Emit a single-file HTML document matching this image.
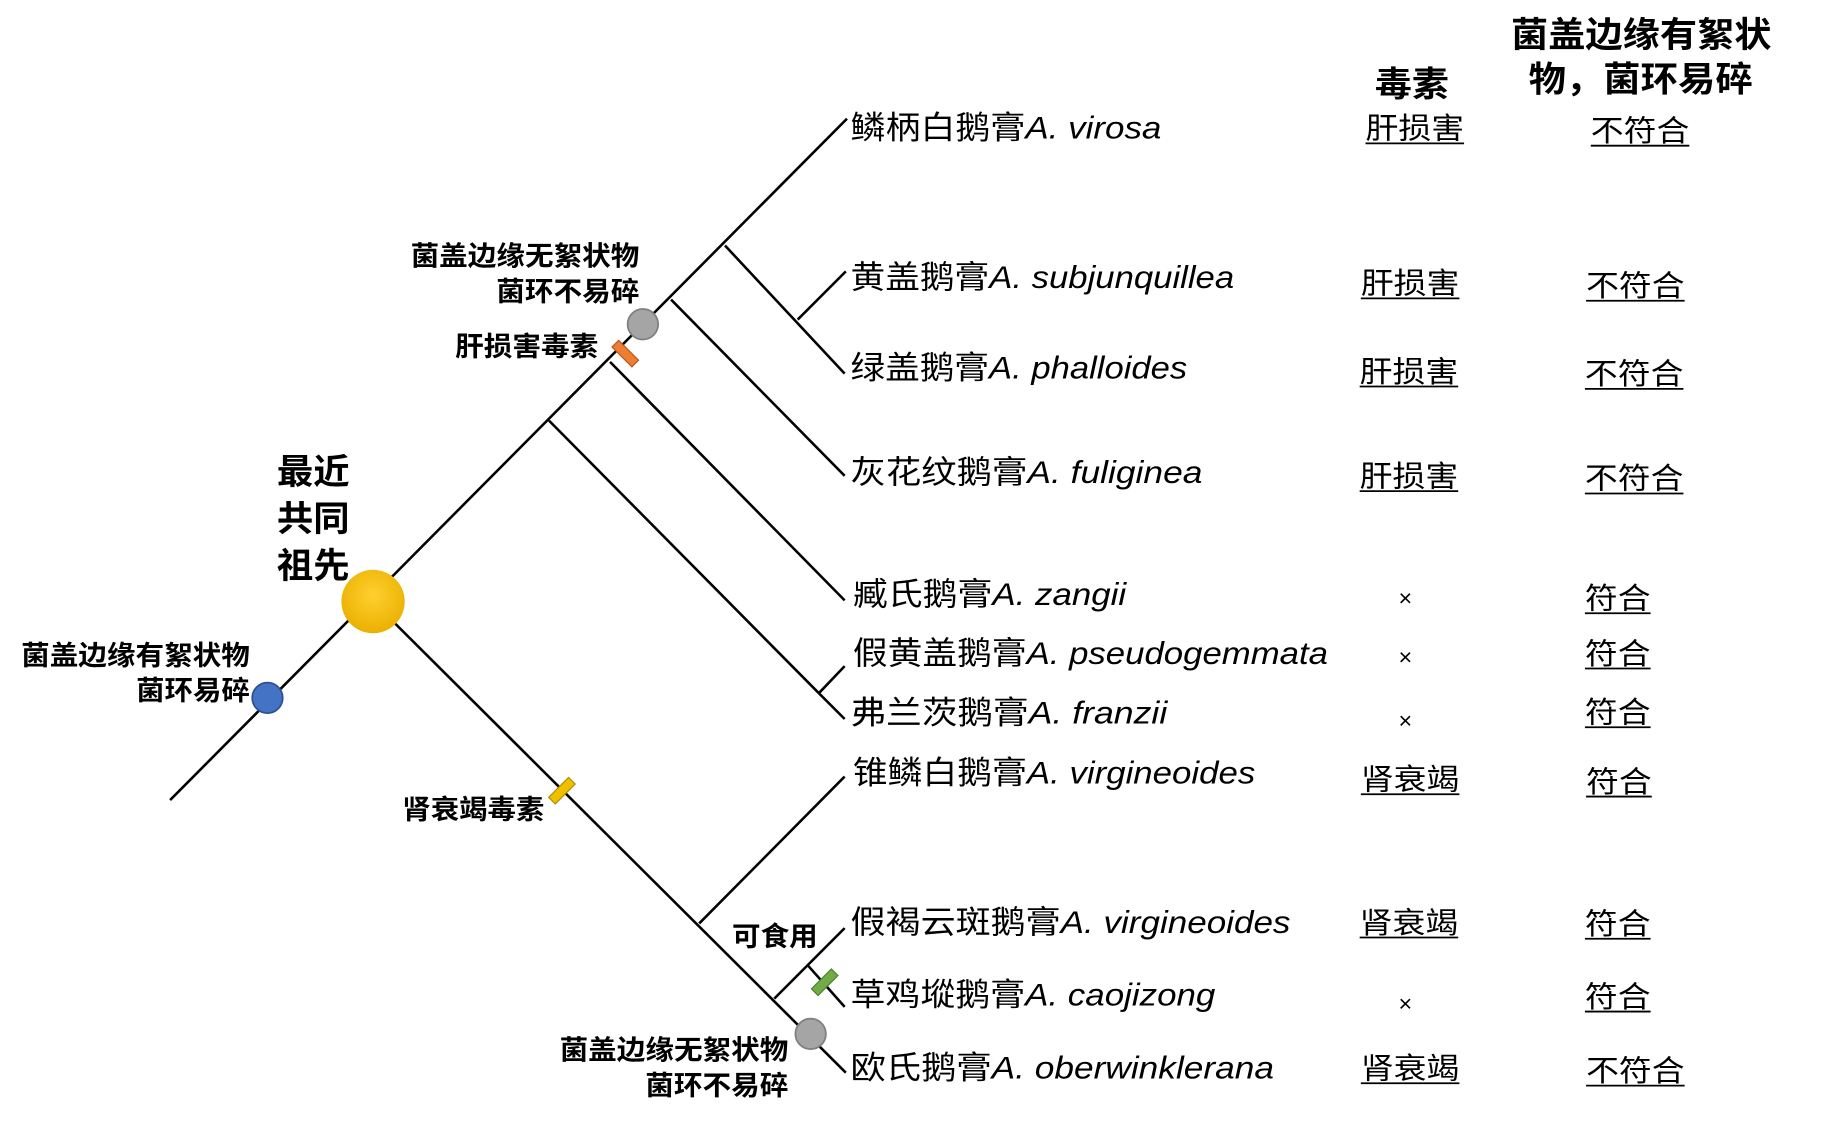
<!DOCTYPE html>
<html><head><meta charset="utf-8"><style>
html,body{margin:0;padding:0;background:#fff;}
svg{display:block;}
text{font-family:"Liberation Sans","Noto Sans CJK SC",sans-serif;fill:#000;}
.b{font-weight:bold;font-size:23px;}
.sp{font-size:27px;}
.i{font-style:italic;}
.c{font-size:25px;}
</style></head><body>
<svg width="1843" height="1122" viewBox="0 0 1571 955" preserveAspectRatio="none" xmlns="http://www.w3.org/2000/svg">
<defs>
<radialGradient id="yg" cx="50%" cy="40%" r="60%"><stop offset="0" stop-color="#ffd030"/><stop offset="1" stop-color="#eab000"/></radialGradient>
</defs>
<g stroke="#000" stroke-width="2.2" fill="none">
<line x1="145" y1="681" x2="722" y2="101"/>
<line x1="318" y1="512" x2="721" y2="913"/>
<line x1="468" y1="358" x2="698" y2="590"/>
<line x1="698" y1="590" x2="720" y2="567"/>
<line x1="698" y1="590" x2="720" y2="612"/>
<line x1="520" y1="308" x2="720" y2="511"/>
<line x1="572" y1="255" x2="720" y2="405"/>
<line x1="618" y1="209" x2="720" y2="318"/>
<line x1="680" y1="272" x2="721" y2="231"/>
<line x1="596" y1="786" x2="720" y2="661"/>
<line x1="660" y1="850" x2="720" y2="790"/>
<line x1="688" y1="821" x2="720" y2="857"/>
</g>
<rect x="-4" y="-12" width="8" height="24" fill="#ed7d31" stroke="#b05a1c" stroke-width="1" transform="translate(533,301) rotate(-45)"/>
<rect x="-4" y="-12" width="8" height="24" fill="#f0c000" stroke="#b08c00" stroke-width="1" transform="translate(479,673) rotate(45)"/>
<rect x="-4" y="-12" width="8" height="24" fill="#70ad47" stroke="#4e7f30" stroke-width="1" transform="translate(703,836) rotate(45)"/>
<circle cx="318" cy="512" r="27" fill="url(#yg)"/>
<circle cx="228" cy="594" r="13" fill="#4472c4" stroke="#2f528f" stroke-width="1.5"/>
<circle cx="548" cy="276" r="13" fill="#a5a5a5" stroke="#7f7f7f" stroke-width="1.5"/>
<circle cx="691" cy="880" r="13" fill="#a5a5a5" stroke="#7f7f7f" stroke-width="1.5"/>

<text class="b" x="236" y="412" style="font-size:30px" textLength="62" lengthAdjust="spacingAndGlyphs">最近</text>
<text class="b" x="236" y="452" style="font-size:30px" textLength="62" lengthAdjust="spacingAndGlyphs">共同</text>
<text class="b" x="236" y="492" style="font-size:30px" textLength="62" lengthAdjust="spacingAndGlyphs">祖先</text>
<text class="b" x="18" y="566" textLength="195" lengthAdjust="spacingAndGlyphs">菌盖边缘有絮状物</text>
<text class="b" x="116" y="596" textLength="97" lengthAdjust="spacingAndGlyphs">菌环易碎</text>
<text class="b" x="350" y="226" textLength="195" lengthAdjust="spacingAndGlyphs">菌盖边缘无絮状物</text>
<text class="b" x="423" y="256" textLength="122" lengthAdjust="spacingAndGlyphs">菌环不易碎</text>
<text class="b" x="388" y="303" textLength="122" lengthAdjust="spacingAndGlyphs">肝损害毒素</text>
<text class="b" x="343" y="697" textLength="121" lengthAdjust="spacingAndGlyphs">肾衰竭毒素</text>
<text class="b" x="624" y="805" textLength="73" lengthAdjust="spacingAndGlyphs">可食用</text>
<text class="b" x="477" y="902" textLength="195" lengthAdjust="spacingAndGlyphs">菌盖边缘无絮状物</text>
<text class="b" x="550" y="932" textLength="122" lengthAdjust="spacingAndGlyphs">菌环不易碎</text>

<text class="sp" x="725" y="118" textLength="265" lengthAdjust="spacingAndGlyphs">鳞柄白鹅膏<tspan class="i">A. virosa</tspan></text>
<text class="sp" x="725" y="245" textLength="327" lengthAdjust="spacingAndGlyphs">黄盖鹅膏<tspan class="i">A. subjunquillea</tspan></text>
<text class="sp" x="725" y="322" textLength="287" lengthAdjust="spacingAndGlyphs">绿盖鹅膏<tspan class="i">A. phalloides</tspan></text>
<text class="sp" x="725" y="411" textLength="300" lengthAdjust="spacingAndGlyphs">灰花纹鹅膏<tspan class="i">A. fuliginea</tspan></text>
<text class="sp" x="727" y="515" textLength="233" lengthAdjust="spacingAndGlyphs">臧氏鹅膏<tspan class="i">A. zangii</tspan></text>
<text class="sp" x="727" y="565" textLength="405" lengthAdjust="spacingAndGlyphs">假黄盖鹅膏<tspan class="i">A. pseudogemmata</tspan></text>
<text class="sp" x="725" y="616" textLength="270" lengthAdjust="spacingAndGlyphs">弗兰茨鹅膏<tspan class="i">A. franzii</tspan></text>
<text class="sp" x="727" y="667" textLength="343" lengthAdjust="spacingAndGlyphs">锥鳞白鹅膏<tspan class="i">A. virgineoides</tspan></text>
<text class="sp" x="725" y="794" textLength="375" lengthAdjust="spacingAndGlyphs">假褐云斑鹅膏<tspan class="i">A. virgineoides</tspan></text>
<text class="sp" x="725" y="856" textLength="311" lengthAdjust="spacingAndGlyphs">草鸡㙡鹅膏<tspan class="i">A. caojizong</tspan></text>
<text class="sp" x="725" y="918" textLength="361" lengthAdjust="spacingAndGlyphs">欧氏鹅膏<tspan class="i">A. oberwinklerana</tspan></text>

<text class="b" x="1172" y="82" style="font-size:30px" textLength="63" lengthAdjust="spacingAndGlyphs">毒素</text>
<text class="b" x="1288" y="40" style="font-size:30px" textLength="222" lengthAdjust="spacingAndGlyphs">菌盖边缘有絮状</text>
<text class="b" x="1303" y="78" style="font-size:30px" textLength="191" lengthAdjust="spacingAndGlyphs">物，菌环易碎</text>

<g class="c">
<text x="1164" y="118" textLength="84" lengthAdjust="spacingAndGlyphs">肝损害</text>
<text x="1160" y="250" textLength="84" lengthAdjust="spacingAndGlyphs">肝损害</text>
<text x="1159" y="325" textLength="84" lengthAdjust="spacingAndGlyphs">肝损害</text>
<text x="1159" y="414" textLength="84" lengthAdjust="spacingAndGlyphs">肝损害</text>
<text x="1160" y="672" textLength="84" lengthAdjust="spacingAndGlyphs">肾衰竭</text>
<text x="1159" y="794" textLength="84" lengthAdjust="spacingAndGlyphs">肾衰竭</text>
<text x="1160" y="918" textLength="84" lengthAdjust="spacingAndGlyphs">肾衰竭</text>
<text x="1198" y="516" text-anchor="middle" style="font-size:20px">×</text>
<text x="1198" y="566" text-anchor="middle" style="font-size:20px">×</text>
<text x="1198" y="620" text-anchor="middle" style="font-size:20px">×</text>
<text x="1198" y="861" text-anchor="middle" style="font-size:20px">×</text>
<text x="1356" y="120" textLength="84" lengthAdjust="spacingAndGlyphs">不符合</text>
<text x="1352" y="252" textLength="84" lengthAdjust="spacingAndGlyphs">不符合</text>
<text x="1351" y="327" textLength="84" lengthAdjust="spacingAndGlyphs">不符合</text>
<text x="1351" y="416" textLength="84" lengthAdjust="spacingAndGlyphs">不符合</text>
<text x="1351" y="518" textLength="56" lengthAdjust="spacingAndGlyphs">符合</text>
<text x="1351" y="565" textLength="56" lengthAdjust="spacingAndGlyphs">符合</text>
<text x="1351" y="615" textLength="56" lengthAdjust="spacingAndGlyphs">符合</text>
<text x="1352" y="674" textLength="56" lengthAdjust="spacingAndGlyphs">符合</text>
<text x="1351" y="795" textLength="56" lengthAdjust="spacingAndGlyphs">符合</text>
<text x="1351" y="857" textLength="56" lengthAdjust="spacingAndGlyphs">符合</text>
<text x="1352" y="920" textLength="84" lengthAdjust="spacingAndGlyphs">不符合</text>
</g>
<g stroke="#000" stroke-width="1.5">
<line x1="1164" y1="122" x2="1248" y2="122"/>
<line x1="1160" y1="254" x2="1244" y2="254"/>
<line x1="1159" y1="329" x2="1243" y2="329"/>
<line x1="1159" y1="418" x2="1243" y2="418"/>
<line x1="1160" y1="676" x2="1244" y2="676"/>
<line x1="1159" y1="798" x2="1243" y2="798"/>
<line x1="1160" y1="922" x2="1244" y2="922"/>
<line x1="1356" y1="124" x2="1440" y2="124"/>
<line x1="1352" y1="256" x2="1436" y2="256"/>
<line x1="1351" y1="331" x2="1435" y2="331"/>
<line x1="1351" y1="420" x2="1435" y2="420"/>
<line x1="1351" y1="522" x2="1407" y2="522"/>
<line x1="1351" y1="569" x2="1407" y2="569"/>
<line x1="1351" y1="619" x2="1407" y2="619"/>
<line x1="1352" y1="678" x2="1408" y2="678"/>
<line x1="1351" y1="799" x2="1407" y2="799"/>
<line x1="1351" y1="861" x2="1407" y2="861"/>
<line x1="1352" y1="924" x2="1436" y2="924"/>
</g>
</svg>
</body></html>
